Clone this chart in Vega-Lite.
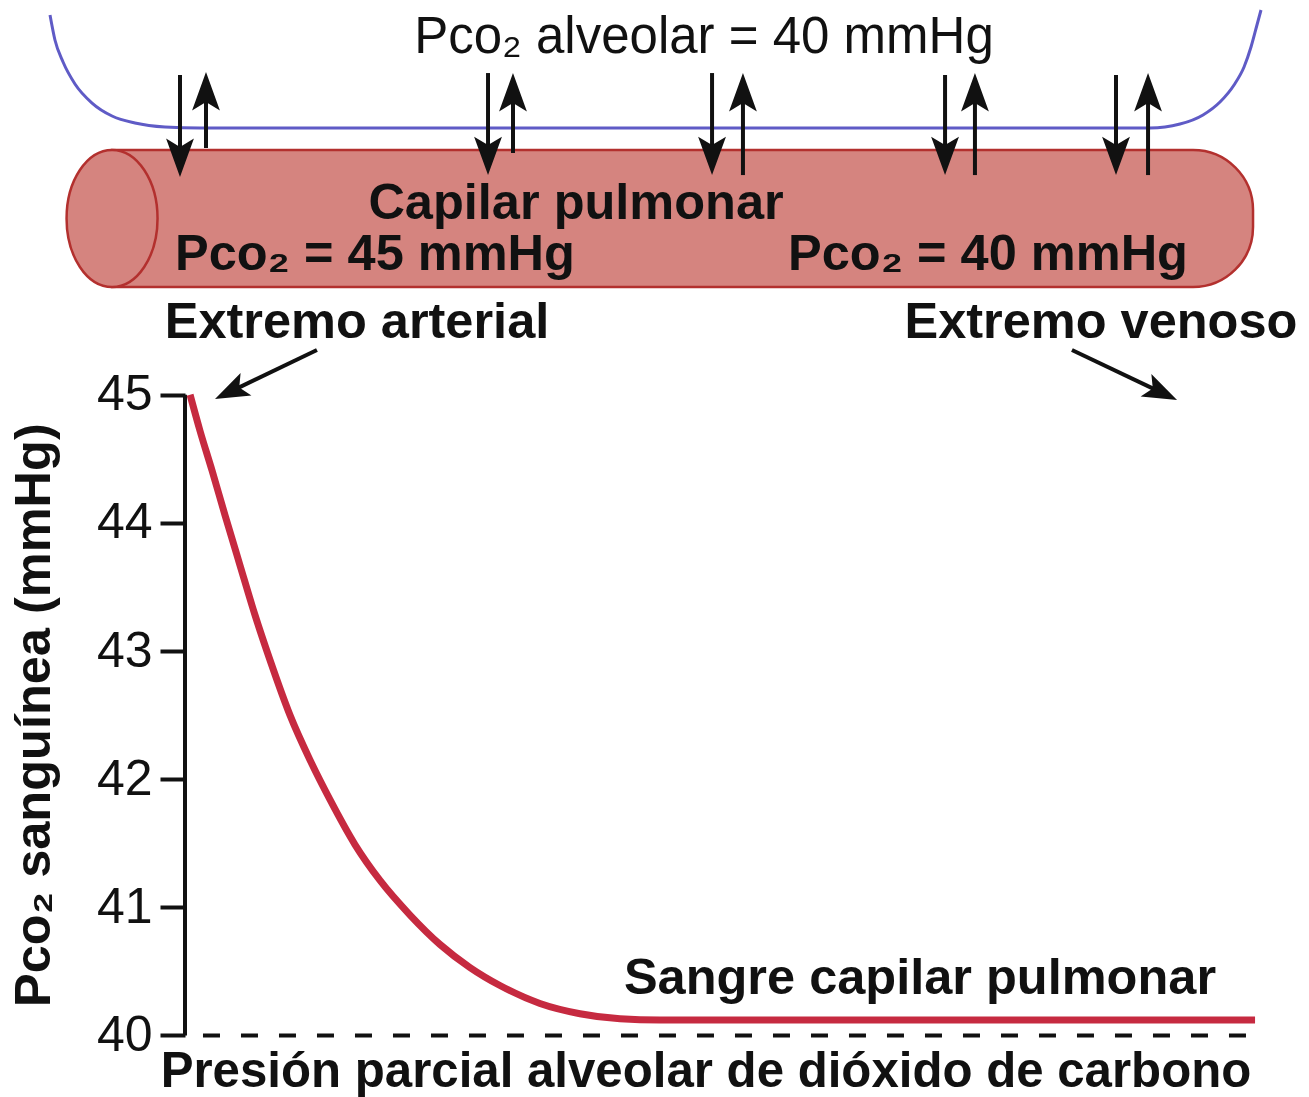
{
  "$schema": "https://vega.github.io/schema/vega-lite/v6.json",
  "width": 1124,
  "height": 1097,
  "autosize": {"type": "none"},
  "padding": {"left": 185, "top": 0, "right": 0, "bottom": 0},
  "background": "white",
  "config": {"view": {"stroke": null}},
  "datasets": {
    "curve": [
      {"x": 0.45, "y": 45.0}, {"x": 1.33, "y": 44.72}, {"x": 2.40, "y": 44.41}, {"x": 3.56, "y": 44.06},
      {"x": 4.89, "y": 43.67}, {"x": 6.23, "y": 43.28}, {"x": 7.56, "y": 42.93}, {"x": 9.34, "y": 42.50},
      {"x": 11.12, "y": 42.15}, {"x": 12.90, "y": 41.84}, {"x": 15.12, "y": 41.49}, {"x": 17.35, "y": 41.21},
      {"x": 20.02, "y": 40.94}, {"x": 22.69, "y": 40.71}, {"x": 25.36, "y": 40.53}, {"x": 28.02, "y": 40.39},
      {"x": 31.58, "y": 40.25}, {"x": 35.14, "y": 40.17}, {"x": 38.70, "y": 40.13}, {"x": 42.26, "y": 40.12},
      {"x": 95.20, "y": 40.12}
    ],
    "membrane": [
      {"x": -12.01, "y": 47.963}, {"x": -11.57, "y": 47.768}, {"x": -10.85, "y": 47.596}, {"x": -9.79, "y": 47.425},
      {"x": -8.27, "y": 47.276}, {"x": -6.49, "y": 47.175}, {"x": -4.45, "y": 47.120}, {"x": -1.78, "y": 47.089},
      {"x": 1.33, "y": 47.081}, {"x": 45.82, "y": 47.081}, {"x": 85.85, "y": 47.081}, {"x": 88.52, "y": 47.112},
      {"x": 90.57, "y": 47.183}, {"x": 92.08, "y": 47.284}, {"x": 93.33, "y": 47.417}, {"x": 94.22, "y": 47.557},
      {"x": 94.84, "y": 47.713}, {"x": 95.37, "y": 47.885}, {"x": 95.73, "y": 48.002}
    ],
    "tube": [{"x": -6.49, "x2": 95.02, "y": 46.91, "y2": 45.84}],
    "tubeEnd": [{"x": -6.49, "y": 46.375}],
    "shafts": [
      {"x": -0.445, "x2": -0.445, "y": 47.495, "y2": 46.894},
      {"x": 26.96, "x2": 26.96, "y": 47.51, "y2": 46.909},
      {"x": 46.89, "x2": 46.89, "y": 47.51, "y2": 46.909},
      {"x": 67.62, "x2": 67.62, "y": 47.495, "y2": 46.909},
      {"x": 82.83, "x2": 82.83, "y": 47.495, "y2": 46.909},
      {"x": 1.868, "x2": 1.868, "y": 46.925, "y2": 47.32},
      {"x": 29.18, "x2": 29.18, "y": 46.886, "y2": 47.315},
      {"x": 49.64, "x2": 49.64, "y": 46.714, "y2": 47.315},
      {"x": 70.28, "x2": 70.28, "y": 46.714, "y2": 47.315},
      {"x": 85.68, "x2": 85.68, "y": 46.714, "y2": 47.315},
      {"x": 11.74, "x2": 4.27, "y": 45.349, "y2": 45.034},
      {"x": 78.91, "x2": 86.65, "y": 45.349, "y2": 45.026},
      {"x": 0, "x2": 0, "y": 40, "y2": 45}
    ],
    "heads": [
      {"x": -0.445, "y": 46.699, "a": 180, "s": 2304},
      {"x": 26.96, "y": 46.714, "a": 180, "s": 2304},
      {"x": 46.89, "y": 46.714, "a": 180, "s": 2304},
      {"x": 67.62, "y": 46.714, "a": 180, "s": 2304},
      {"x": 82.83, "y": 46.714, "a": 180, "s": 2304},
      {"x": 1.868, "y": 47.518, "a": 0, "s": 2304},
      {"x": 29.18, "y": 47.51, "a": 0, "s": 2304},
      {"x": 49.64, "y": 47.51, "a": 0, "s": 2304},
      {"x": 70.28, "y": 47.51, "a": 0, "s": 2304},
      {"x": 85.68, "y": 47.51, "a": 0, "s": 2304},
      {"x": 2.67, "y": 44.966, "a": 244.3, "s": 1849},
      {"x": 88.26, "y": 44.959, "a": 115.5, "s": 1849}
    ],
    "dashed": [{"x": 1.6, "x2": 95.2, "y": 40, "y2": 40}],
    "regularText": [
      {"t": "Pco₂ alveolar = 40 mmHg", "x": 46.17, "y": 47.666, "a": 0, "fs": 51}
    ],
    "boldText": [
      {"t": "Capilar pulmonar", "x": 34.79, "y": 46.371, "a": 0, "fs": 50.5},
      {"t": "Pco₂ = 45 mmHg", "x": 16.9, "y": 45.973, "a": 0, "fs": 50.5},
      {"t": "Pco₂ = 40 mmHg", "x": 71.44, "y": 45.973, "a": 0, "fs": 50.5},
      {"t": "Extremo arterial", "x": 15.3, "y": 45.442, "a": 0, "fs": 50.5},
      {"t": "Extremo venoso", "x": 81.49, "y": 45.442, "a": 0, "fs": 50.5},
      {"t": "Sangre capilar pulmonar", "x": 65.39, "y": 40.323, "a": 0, "fs": 50.5},
      {"t": "Presión parcial alveolar de dióxido de carbono", "x": 46.35, "y": 39.598, "a": 0, "fs": 49.2},
      {"t": "Pco₂ sanguínea (mmHg)", "x": -12.0, "y": 42.5, "a": 270, "fs": 50.5}
    ]
  },
  "encoding": {
    "x": {"field": "x", "type": "quantitative", "scale": {"domain": [0, 100], "nice": false, "zero": false}, "axis": null},
    "y": {
      "field": "y", "type": "quantitative",
      "scale": {"domain": [39.52, 48.08], "nice": false, "zero": false},
      "axis": {
        "values": [40, 41, 42, 43, 44, 45], "domain": false, "grid": false, "title": null,
        "tickSize": 25, "tickWidth": 4, "tickColor": "#111",
        "labelFontSize": 50, "labelFont": "Liberation Sans", "labelColor": "#111", "labelPadding": 8
      }
    }
  },
  "layer": [
    {
      "data": {"name": "membrane"},
      "mark": {"type": "line", "color": "#5f5bc6", "strokeWidth": 3, "interpolate": "monotone"}
    },
    {
      "data": {"name": "tube"},
      "mark": {"type": "rect", "fill": "#d5847f", "stroke": "#b3302e", "strokeWidth": 2.5, "cornerRadiusTopRight": 60, "cornerRadiusBottomRight": 60},
      "encoding": {"x2": {"field": "x2"}, "y2": {"field": "y2"}}
    },
    {
      "data": {"name": "tubeEnd"},
      "mark": {"type": "point", "shape": "M 0 -1 A 0.664 1 0 1 1 0 1 A 0.664 1 0 1 1 0 -1 Z", "size": 18769, "fill": "#d5847f", "stroke": "#b3302e", "strokeWidth": 2.5, "opacity": 1, "filled": false}
    },
    {
      "data": {"name": "shafts"},
      "mark": {"type": "rule", "color": "#111", "strokeWidth": 4},
      "encoding": {"x2": {"field": "x2"}, "y2": {"field": "y2"}}
    },
    {
      "data": {"name": "heads"},
      "mark": {"type": "point", "shape": "M 0 0 L 0.58 1.6 L 0 1.25 L -0.58 1.6 Z", "filled": true, "color": "#111", "opacity": 1, "strokeWidth": 0},
      "encoding": {
        "angle": {"field": "a", "type": "quantitative", "scale": null},
        "size": {"field": "s", "type": "quantitative", "scale": null}
      }
    },
    {
      "data": {"name": "dashed"},
      "mark": {"type": "rule", "color": "#111", "strokeWidth": 4, "strokeDash": [17, 21]},
      "encoding": {"x2": {"field": "x2"}}
    },
    {
      "data": {"name": "curve"},
      "mark": {"type": "line", "color": "#c62a40", "strokeWidth": 7, "interpolate": "monotone"}
    },
    {
      "data": {"name": "regularText"},
      "mark": {"type": "text", "font": "Liberation Sans", "color": "#111", "align": "center", "baseline": "alphabetic"},
      "encoding": {
        "text": {"field": "t"},
        "size": {"field": "fs", "type": "quantitative", "scale": null}
      }
    },
    {
      "data": {"name": "boldText"},
      "mark": {"type": "text", "font": "Liberation Sans", "fontWeight": "bold", "color": "#111", "align": "center", "baseline": "alphabetic"},
      "encoding": {
        "text": {"field": "t"},
        "angle": {"field": "a", "type": "quantitative", "scale": null},
        "size": {"field": "fs", "type": "quantitative", "scale": null}
      }
    }
  ]
}
